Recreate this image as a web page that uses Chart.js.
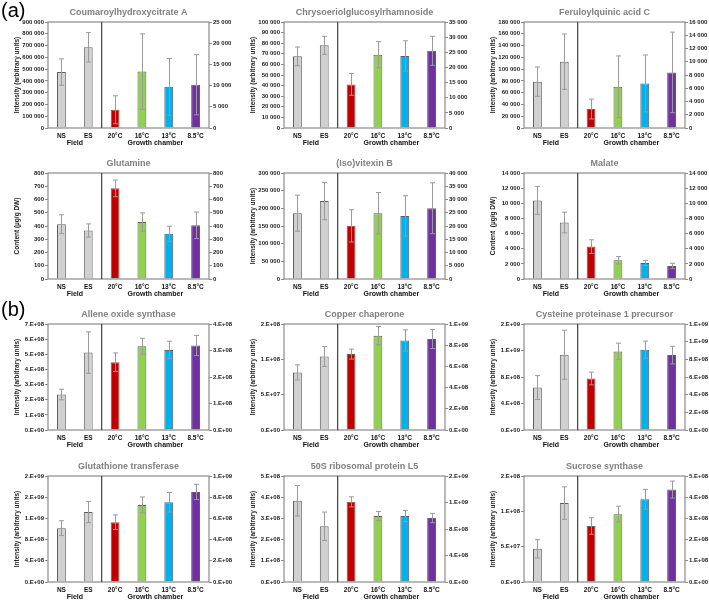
<!DOCTYPE html>
<html><head><meta charset="utf-8">
<script src="https://cdn.jsdelivr.net/npm/chart.js@4.4.1/dist/chart.umd.min.js"></script>
<style>
html,body{margin:0;padding:0;background:#fff;width:709px;height:601px;overflow:hidden;position:relative}
canvas{position:absolute}
.lab{position:absolute;font-family:"Liberation Sans",Arial,sans-serif;font-size:20px;color:#000;z-index:2;line-height:1}
</style></head><body>
<div class="lab" style="left:1px;top:0px">(a)</div>
<div class="lab" style="left:1px;top:299px">(b)</div>
<script>
const categories = ['NS','ES','20°C','16°C','13°C','8.5°C'];
const groups = ['Field','Growth chamber'];
const groupSizes = [2, 4];
const barColors = ['#d0d0d0','#d0d0d0','#c00000','#92d050','#00b0f0','#7030a0'];

const titles = ['Coumaroylhydroxycitrate A','Chrysoeriolglucosylrhamnoside','Feruloylquinic acid C',
  'Glutamine','(Iso)vitexin B','Malate',
  'Allene oxide synthase','Copper chaperone','Cysteine proteinase 1 precursor',
  'Glutathione transferase','50S ribosomal protein L5','Sucrose synthase'];
const yTitles = ['Intensity (arbitrary units)','Intensity (arbitrary units)','Intensity (arbitrary units)',
  'Content (µg/g DW)','Intensity (arbitrary units)','Content  (µg/g DW)',
  'Intensity (arbitrary units)','Intensity (arbitrary units)','Intensity (arbitrary units)',
  'Intensity (arbitrary units)','Intensity (arbitrary units)','Intensity (arbitrary units)'];

// means (NS, ES on left axis; chamber values on right axis) and error bars
const coumMean = [475000, 685000, 4300, 13300, 9700, 10200];
const coumErr  = [112000, 125000, 3300, 8900, 6700, 7100];
const chrysMean = [67600, 78000, 14400, 24200, 23800, 25500];
const chrysErr  = [8800, 8500, 3600, 4300, 5000, 4800];
const feruMean = [78700, 112600, 2860, 6230, 6730, 8390];
const feruErr  = [24900, 47000, 1500, 4650, 4300, 6080];
const glnMean = [414, 366, 684, 430, 341, 405];
const glnErr  = [71, 50, 63, 69, 57, 100];
const vitexMean = [186400, 220500, 20050, 24840, 23800, 26700];
const vitexErr  = [51000, 53000, 6100, 7800, 7600, 9600];
const malateMean = [10380, 7460, 4280, 2470, 2120, 1720];
const malateErr  = [1850, 1370, 900, 490, 330, 350];
const aosMean = [2.34e8, 5.11e8, 2.56e8, 3.16e8, 3.02e8, 3.19e8];
const aosErr  = [0.35e8, 1.37e8, 0.35e8, 0.30e8, 0.33e8, 0.38e8];
const copperMean = [8.15e7, 1.04e8, 7.16e8, 8.9e8, 8.45e8, 8.58e8];
const copperErr  = [1.07e7, 1.4e7, 0.47e8, 0.87e8, 1.0e8, 0.9e8];
const cystMean = [6.41e8, 1.136e9, 5.83e8, 8.9e8, 9.09e8, 8.48e8];
const cystErr  = [1.8e8, 3.7e8, 0.72e8, 0.93e8, 0.97e8, 1.0e8];
const gstMean = [1.016e9, 1.32e9, 5.64e8, 7.27e8, 7.52e8, 8.5e8];
const gstErr  = [1.4e8, 2.0e8, 0.69e8, 0.75e8, 0.92e8, 0.72e8];
const ribMean = [3.83e8, 2.63e8, 1.21e9, 9.95e8, 9.95e8, 9.65e8];
const ribErr  = [0.72e8, 0.67e8, 0.76e8, 0.68e8, 0.83e8, 0.7e8];
const sucMean = [4.69e7, 1.117e8, 2.64e8, 3.2e8, 3.9e8, 4.36e8];
const sucErr  = [1.29e7, 2.3e7, 0.39e8, 0.375e8, 0.47e8, 0.4e8];

const leftAxisMax  = [900000, 100000, 180000, 800, 300000, 14000, 7e8, 1.5e8, 1.6e9, 2e9, 5e8, 1.5e8];
const leftAxisStep = [100000, 10000, 20000, 100, 50000, 2000, 1e8, 5e7, 4e8, 4e8, 1e8, 5e7];
const rightAxisMax  = [25000, 35000, 16000, 800, 40000, 14000, 4e8, 1e9, 1.2e9, 1e9, 1.6e9, 5e8];
const rightAxisStep = [5000, 5000, 2000, 100, 5000, 2000, 1e8, 2e8, 2e8, 2e8, 4e8, 1e8];

const means = [coumMean, chrysMean, feruMean, glnMean, vitexMean, malateMean, aosMean, copperMean, cystMean, gstMean, ribMean, sucMean];
const errs  = [coumErr, chrysErr, feruErr, glnErr, vitexErr, malateErr, aosErr, copperErr, cystErr, gstErr, ribErr, sucErr];

function fmtSpace(v){ return Math.round(v).toString().replace(/\B(?=(\d{3})+(?!\d))/g,' '); }
function fmtSci(v){
  if (v === 0) return '0.E+00';
  let e = Math.floor(Math.log10(v) + 1e-9);
  let m = Math.round(v / Math.pow(10, e) + 1e-9);
  if (m >= 10) { m = 1; e++; }
  return m + '.E+' + String(e).padStart(2, '0');
}

// centres of the two groups, in category units
const groupCentres = [];
(function(){ let acc = 0; groupSizes.forEach(n => { groupCentres.push(acc + n / 2); acc += n; }); })();

const FONT = '"Liberation Sans", Arial, sans-serif';
const nField = groupSizes[0];

const decor = {
  id: 'decor',
  afterDatasetsDraw(chart) {
    const ctx = chart.ctx, a = chart.chartArea, xs = chart.scales.x;
    ctx.save();
    chart.data.datasets.forEach((ds, di) => {
      const meta = chart.getDatasetMeta(di);
      const ys = chart.scales[ds.yAxisID];
      meta.data.forEach((el, i) => {
        const v = ds.data[i];
        if (v == null) return;
        const e = ds.errors[i];
        const yt = ys.getPixelForValue(v + e), yb = ys.getPixelForValue(v - e);
        const x = Math.round(el.x) + 0.5;
        ctx.strokeStyle = '#9a9a9a';
        ctx.lineWidth = 1;
        ctx.beginPath();
        ctx.moveTo(x, yt); ctx.lineTo(x, yb);
        ctx.moveTo(x - 2.5, yt); ctx.lineTo(x + 2.5, yt);
        ctx.moveTo(x - 2.5, yb); ctx.lineTo(x + 2.5, yb);
        ctx.stroke();
      });
    });
    ctx.strokeStyle = '#8a8a8a';
    ctx.lineWidth = 1.2;
    ctx.strokeRect(a.left, a.top, a.right - a.left, a.bottom - a.top);
    const sx = (xs.getPixelForValue(nField - 1) + xs.getPixelForValue(nField)) / 2;
    ctx.strokeStyle = '#404040';
    ctx.lineWidth = 1.2;
    ctx.beginPath(); ctx.moveTo(sx, a.top); ctx.lineTo(sx, a.bottom); ctx.stroke();
    ctx.restore();
  }
};

const colLeft = [0, 236, 476];
const colWidth = [236, 236, 233];
const rowTop = [4, 155, 306, 458];
const CH = 143;
const plotRight = 209;

titles.forEach((title, p) => {
  const r = Math.floor(p / 3), c = p % 3;
  const cv = document.createElement('canvas');
  cv.width = colWidth[c]; cv.height = CH;
  cv.style.left = colLeft[c] + 'px'; cv.style.top = rowTop[r] + 'px';
  cv.style.width = colWidth[c] + 'px'; cv.style.height = CH + 'px';
  document.body.appendChild(cv);
  const m = means[p], e = errs[p];
  const fmt = p < 6 ? fmtSpace : fmtSci;
  const rightW = colWidth[c] - plotRight;
  const yAxis = (max, step, pos) => ({
    type: 'linear', position: pos, min: 0, max: max,
    ticks: { stepSize: step, autoSkip: false, padding: 1, color: '#222',
      font: { family: FONT, size: 6, weight: 'bold' },
      callback: (v) => fmt(v) },
    grid: { drawOnChartArea: false, drawTicks: true, tickLength: 3, color: '#8a8a8a' },
    border: { display: false }
  });
  const yLeft = yAxis(leftAxisMax[p], leftAxisStep[p], 'left');
  yLeft.afterFit = (s) => { s.width = 48; };
  yLeft.title = { display: true, text: yTitles[p], color: '#222',
    font: { family: FONT, size: 6.5, weight: 'bold' }, padding: { top: 13, bottom: 0 } };
  const yRight = yAxis(rightAxisMax[p], rightAxisStep[p], 'right');
  yRight.afterFit = (s) => { s.width = rightW; };

  new Chart(cv, {
    type: 'bar',
    data: {
      labels: categories,
      datasets: [
        { label: groups[0], yAxisID: 'y', grouped: false,
          data: m.map((v, i) => i < nField ? v : null),
          errors: e, backgroundColor: barColors, borderColor: '#606060', borderWidth: 1,
          categoryPercentage: 1, barPercentage: 0.33 },
        { label: groups[1], yAxisID: 'y1', grouped: false,
          data: m.map((v, i) => i >= nField ? v : null),
          errors: e, backgroundColor: barColors, borderColor: '#606060', borderWidth: 1,
          categoryPercentage: 1, barPercentage: 0.33 }
      ]
    },
    options: {
      responsive: false, animation: false, devicePixelRatio: 1,
      layout: { padding: 0 },
      plugins: {
        legend: { display: false }, tooltip: { enabled: false },
        title: { display: true, text: title, color: '#7f7f7f', fullSize: false,
          font: { family: FONT, size: 9, weight: 'bold' }, padding: { top: 3.5, bottom: 3.7 } }
      },
      scales: {
        x: { type: 'category', position: 'bottom', weight: 0, offset: true,
          grid: { display: false, drawTicks: false }, border: { display: false },
          ticks: { autoSkip: false, maxRotation: 0, padding: 4, color: '#111',
            font: { family: FONT, size: 6.5, weight: 'bold' } },
          afterFit: (s) => { s.height = 10; } },
        xg: { type: 'linear', position: 'bottom', weight: 1, min: 0, max: categories.length,
          bounds: 'data', offset: false,
          grid: { display: false, drawTicks: false }, border: { display: false },
          ticks: { stepSize: 1, autoSkip: false, maxRotation: 0, padding: 0.8, color: '#111',
            font: { family: FONT, size: 7, weight: 'bold' },
            callback: (v) => { const k = groupCentres.indexOf(v); return k >= 0 ? groups[k] : ''; } },
          afterFit: (s) => { s.height = 9; } },
        y: yLeft,
        y1: yRight
      }
    },
    plugins: [decor]
  });
});
</script>
</body></html>
